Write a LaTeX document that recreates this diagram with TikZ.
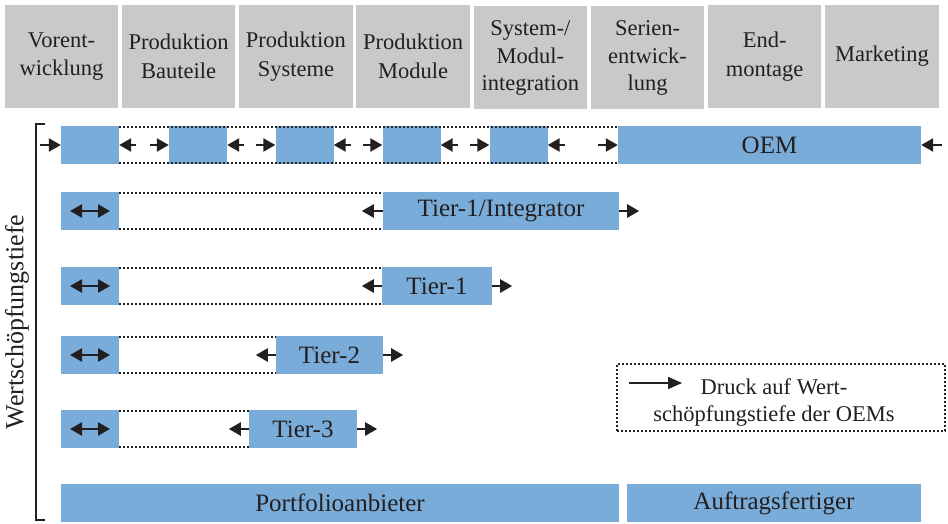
\documentclass[tikz,border=0pt]{standalone}
\usepackage{fontspec}
\setmainfont{Liberation Serif}
\usetikzlibrary{arrows.meta}
\definecolor{hdrgrey}{RGB}{200,201,203}
\definecolor{barblue}{RGB}{122,172,217}
\definecolor{ink}{RGB}{35,31,32}
\begin{document}
\begin{tikzpicture}[x=1pt,y=-1pt,
  font=\fontsize{25}{30}\selectfont, text=ink,
  hdr/.style={fill=hdrgrey, minimum width=113.5pt, minimum height=103pt, inner sep=0pt, align=center, font=\fontsize{22.5}{28.5}\selectfont},
  bar/.style={fill=barblue, minimum height=38pt, inner sep=0pt},
  smallbar/.style={bar, minimum width=58pt},
  dotln/.style={draw=ink, line width=1.8pt, dash pattern=on 1.8pt off 2.2pt},
  push/.style={draw=ink, line width=2.4pt, -{Triangle[length=12pt,width=13pt]}},
  dbl/.style={draw=ink, line width=2.4pt, {Triangle[length=12pt,width=13pt]}-{Triangle[length=12pt,width=13pt]}},
  legarrow/.style={draw=ink, line width=1.6pt, -{Triangle[length=14pt,width=12pt]}}
]
\useasboundingbox (0,0) rectangle (948,524);

% header
\node[hdr] (h1) at (61.5,56.5) {Vorent-\\wicklung};
\node[hdr] (h2) at (178.7,56.5) {Produktion\\Bauteile};
\node[hdr] (h3) at (295.9,56.5) {Produktion\\Systeme};
\node[hdr] (h4) at (413.1,56.5) {Produktion\\Module};
\node[hdr, font=\fontsize{22.5}{27.5}\selectfont] (h5) at (530.3,58) {System-/\\Modul-\\integration};
\node[hdr, font=\fontsize{22.5}{27.5}\selectfont] (h6) at (647.5,58) {Serien-\\entwick-\\lung};
\node[hdr] (h7) at (764.7,56.5) {End-\\montage};
\node[hdr] (h8) at (881.9,56.5) {Marketing};

% row 1 : OEM
\node[smallbar] (b11) at (90,145) {};
\node[smallbar] (b12) at (198,145) {};
\node[smallbar] (b13) at (304.5,145) {};
\node[smallbar] (b14) at (411.5,145) {};
\node[smallbar] (b15) at (518.5,145) {};
\node[bar, minimum width=303pt] (oem) at (769.5,145) {OEM};
\draw[dotln] ([yshift=-0.9pt]b11.north east) -- ([yshift=-0.9pt]oem.north west);
\draw[dotln] ([yshift=0.9pt]b11.south east) -- ([yshift=0.9pt]oem.south west);
\draw[push] ([xshift=-21pt]b11.west) -- (b11.west);
\draw[push] ([xshift=17pt]b11.east) -- (b11.east);
\draw[push] ([xshift=-19pt]b12.west) -- (b12.west);
\draw[push] ([xshift=17pt]b12.east) -- (b12.east);
\draw[push] ([xshift=-19pt]b13.west) -- (b13.west);
\draw[push] ([xshift=17pt]b13.east) -- (b13.east);
\draw[push] ([xshift=-19pt]b14.west) -- (b14.west);
\draw[push] ([xshift=17pt]b14.east) -- (b14.east);
\draw[push] ([xshift=-19pt]b15.west) -- (b15.west);
\draw[push] ([xshift=17pt]b15.east) -- (b15.east);
\draw[push] ([xshift=-20pt]oem.west) -- (oem.west);
\draw[push] ([xshift=21pt]oem.east) -- (oem.east);

% row 2 : Tier-1/Integrator
\node[smallbar] (s2) at (90,211) {};
\node[bar, minimum width=236pt] (t1i) at (501,211) {Tier-1/Integrator};
\draw[dotln] ([yshift=-0.9pt]s2.north east) -- ([yshift=-0.9pt]t1i.north west);
\draw[dotln] ([yshift=0.9pt]s2.south east) -- ([yshift=0.9pt]t1i.south west);
\draw[dbl] ([xshift=-20pt]s2.center) -- ([xshift=20pt]s2.center);
\draw[push] (t1i.west) -- ([xshift=-21pt]t1i.west);
\draw[push] (t1i.east) -- ([xshift=20pt]t1i.east);

% row 3 : Tier-1
\node[smallbar] (s3) at (90,286) {};
\node[bar, minimum width=110pt] (t1) at (437,286) {Tier-1};
\draw[dotln] ([yshift=-0.9pt]s3.north east) -- ([yshift=-0.9pt]t1.north west);
\draw[dotln] ([yshift=0.9pt]s3.south east) -- ([yshift=0.9pt]t1.south west);
\draw[dbl] ([xshift=-20pt]s3.center) -- ([xshift=20pt]s3.center);
\draw[push] (t1.west) -- ([xshift=-20pt]t1.west);
\draw[push] (t1.east) -- ([xshift=20pt]t1.east);

% row 4 : Tier-2
\node[smallbar] (s4) at (90,355) {};
\node[bar, minimum width=107pt] (t2) at (329.5,355) {Tier-2};
\draw[dotln] ([yshift=-0.9pt]s4.north east) -- ([yshift=-0.9pt]t2.north west);
\draw[dotln] ([yshift=0.9pt]s4.south east) -- ([yshift=0.9pt]t2.south west);
\draw[dbl] ([xshift=-20pt]s4.center) -- ([xshift=20pt]s4.center);
\draw[push] (t2.west) -- ([xshift=-20pt]t2.west);
\draw[push] (t2.east) -- ([xshift=20pt]t2.east);

% row 5 : Tier-3
\node[smallbar] (s5) at (90,429) {};
\node[bar, minimum width=108pt] (t3) at (303,429) {Tier-3};
\draw[dotln] ([yshift=-0.9pt]s5.north east) -- ([yshift=-0.9pt]t3.north west);
\draw[dotln] ([yshift=0.9pt]s5.south east) -- ([yshift=0.9pt]t3.south west);
\draw[dbl] ([xshift=-20pt]s5.center) -- ([xshift=20pt]s5.center);
\draw[push] (t3.west) -- ([xshift=-20pt]t3.west);
\draw[push] (t3.east) -- ([xshift=20pt]t3.east);

% bottom row
\node[bar, minimum width=558pt] (pa) at (340,503) {Portfolioanbieter};
\node[bar, minimum width=294pt] (af) at (774,503) {Auftragsfertiger};

% bracket and label
\coordinate (brT) at (45,124);
\coordinate (brB) at (45,520);
\draw[draw=ink, line width=2pt] (brT) -- (36,124) -- (36,520) -- (brB);
\node[rotate=90, font=\fontsize{26}{30}\selectfont] (wst) at (17,322) {Wertschöpfungstiefe};

% legend
\node[dotln, minimum width=328pt, minimum height=67pt, inner sep=0pt] (legend) at (781,397.5) {};
\coordinate (lgS) at (629,383);
\coordinate (lgE) at (682,383);
\draw[legarrow] (lgS) -- (lgE);
\node[align=center, inner sep=0pt, font=\fontsize{22.5}{27}\selectfont] (legtxt) at (774,403) {Druck auf Wert-\\schöpfungstiefe der OEMs};
\end{tikzpicture}
\end{document}
